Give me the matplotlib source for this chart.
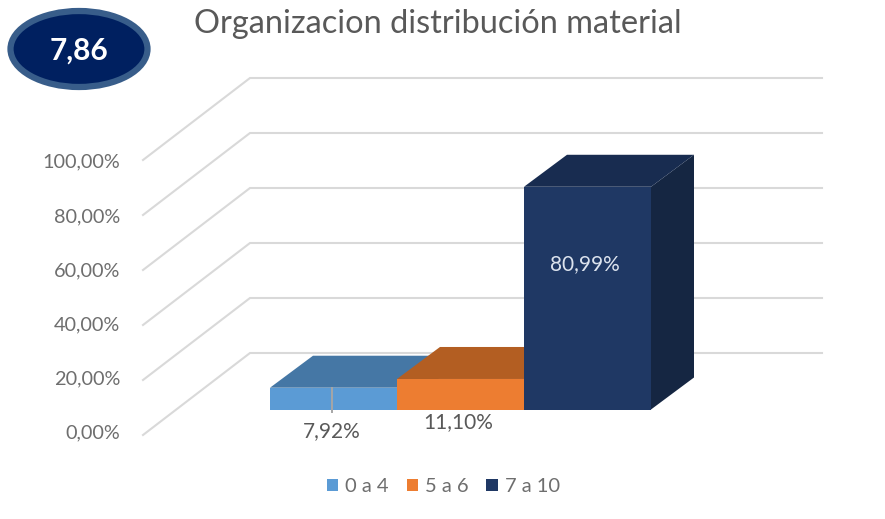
import matplotlib
matplotlib.use("Agg")
import matplotlib.pyplot as plt
from matplotlib.patches import Polygon, Ellipse, Patch

categories = ["0 a 4", "5 a 6", "7 a 10"]
values = [7.92, 11.10, 80.99]
value_labels = ["7,92%", "11,10%", "80,99%"]
axis_values = [0, 20, 40, 60, 80, 100]
axis_labels = ["0,00%", "20,00%", "40,00%", "60,00%", "80,00%", "100,00%"]
title = "Organizacion distribución material"
badge = "7,86"

front_colors = ["#5B9BD5", "#ED7D31", "#1F3864"]
top_colors = ["#4577A5", "#B35E22", "#182C50"]
side_colors = ["#3F6C96", "#A05420", "#152642"]

W, H = 885, 519
PX_X = 127.0     # pixels per category
PX_Y = 2.75      # pixels per percent
X0 = 333.5       # pixel of category 0 centre
Y0 = 409.5       # pixel of 0 % in the bar front plane
plt.rcParams["font.family"] = ["Lato", "DejaVu Sans"]

fig = plt.figure(figsize=(W / 100, H / 100), dpi=100)
ax = fig.add_axes([0, 0, 1, 1])
ax.set_xlim(-X0 / PX_X, (W - X0) / PX_X)
ax.set_ylim((Y0 - H) / PX_Y, Y0 / PX_Y)
ax.axis("off")

# Depth offsets, in data units
bar_dx, bar_dy = 43 / PX_X, 32 / PX_Y
back_x, back_dy = (250 - X0) / PX_X, (Y0 - 353) / PX_Y
left_x, left_dy = (143 - X0) / PX_X, (Y0 - 435) / PX_Y
right_x = (822 - X0) / PX_X

grid = "#D9D9D9"
for v in axis_values:
    ax.plot([left_x, back_x, right_x], [v + left_dy, v + back_dy, v + back_dy],
            color=grid, lw=1.5, solid_joinstyle="miter", zorder=1)

for i, (v, fc, tc, sc) in enumerate(zip(values, front_colors, top_colors, side_colors)):
    l, r = i - 0.5, i + 0.5
    ax.add_patch(Polygon([(r, 0), (r + bar_dx, bar_dy), (r + bar_dx, v + bar_dy), (r, v)],
                         closed=True, fc=sc, ec="none", zorder=2 + i))
    ax.add_patch(Polygon([(l, v), (l + bar_dx, v + bar_dy), (r + bar_dx, v + bar_dy), (r, v)],
                         closed=True, fc=tc, ec="none", zorder=2 + i))
    ax.bar(i, v, width=1.0, color=fc, edgecolor="none", zorder=2 + i)

# Leader line of the first label
ax.plot([-0.012, -0.012], [values[0], -1], color="#A6A6A6", lw=1.4, zorder=8)

# Data labels
ax.text(-0.01, -8.0, value_labels[0], ha="center", va="center", fontsize=15, color="#595959", zorder=9)
ax.text(0.985, -4.4, value_labels[1], ha="center", va="center", fontsize=15, color="#595959", zorder=9)
ax.text(1.98, 52.7, value_labels[2], ha="center", va="center", fontsize=15, color="#DCE3EE", zorder=9)

# Axis labels
for v, s in zip(axis_values, axis_labels):
    ax.text((120.5 - X0) / PX_X, v * 0.986 + left_dy + 0.6, s, ha="right", va="center",
            fontsize=14.3, color="#6E6E6E")

ax.text((194 - X0) / PX_X, (Y0 - 24) / PX_Y, title, ha="left", va="center",
        fontsize=23.4, color="#595959")

# Badge
ax.add_patch(Ellipse(((79 - X0) / PX_X, (Y0 - 49) / PX_Y), 137 / PX_X, 76 / PX_Y,
                     fc="#002060", ec="#385D8A", lw=4.5, zorder=5))
ax.text((79 - X0) / PX_X, (Y0 - 51) / PX_Y, badge, ha="center", va="center",
        fontsize=21.5, fontweight="bold", color="white", zorder=6)

handles = [Patch(facecolor=c, edgecolor="none", label=n) for c, n in zip(front_colors, categories)]
ax.legend(handles=handles, ncol=3, loc="center", bbox_to_anchor=(443.5 / W, 1 - 487 / H),
          frameon=False, fontsize=14.5, labelcolor="#6E6E6E", handlelength=0.55, handleheight=0.55,
          handletextpad=0.36, columnspacing=0.88, borderpad=0)

fig.savefig("out.png", dpi=100, facecolor="white")
